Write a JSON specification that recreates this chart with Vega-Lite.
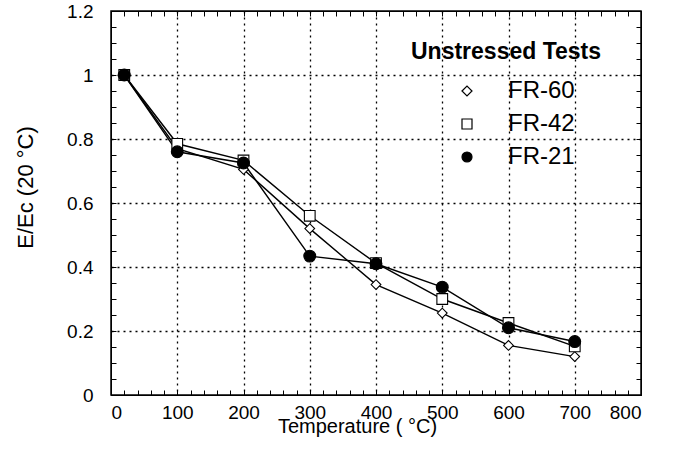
{
  "$schema": "https://vega.github.io/schema/vega-lite/v6.json",
  "width": 530,
  "height": 384,
  "autosize": "none",
  "padding": {"left": 111, "top": 11, "right": 36, "bottom": 74},
  "background": "white",
  "config": {
    "font": "Liberation Sans",
    "view": {"stroke": "black", "strokeWidth": 1.5},
    "axis": {"labelFont": "Liberation Sans", "titleFont": "Liberation Sans", "labelColor": "black", "titleColor": "black", "domainColor": "black", "titleFontWeight": "normal"}
  },
  "data": {
    "values": [
      {"T": 20, "E": 1.0, "series": "FR-60"},
      {"T": 100, "E": 0.77, "series": "FR-60"},
      {"T": 200, "E": 0.705, "series": "FR-60"},
      {"T": 300, "E": 0.52, "series": "FR-60"},
      {"T": 400, "E": 0.345, "series": "FR-60"},
      {"T": 500, "E": 0.256, "series": "FR-60"},
      {"T": 600, "E": 0.155, "series": "FR-60"},
      {"T": 700, "E": 0.12, "series": "FR-60"},
      {"T": 20, "E": 1.0, "series": "FR-42"},
      {"T": 100, "E": 0.785, "series": "FR-42"},
      {"T": 200, "E": 0.733, "series": "FR-42"},
      {"T": 300, "E": 0.56, "series": "FR-42"},
      {"T": 400, "E": 0.412, "series": "FR-42"},
      {"T": 500, "E": 0.30, "series": "FR-42"},
      {"T": 600, "E": 0.225, "series": "FR-42"},
      {"T": 700, "E": 0.152, "series": "FR-42"},
      {"T": 20, "E": 1.0, "series": "FR-21"},
      {"T": 100, "E": 0.76, "series": "FR-21"},
      {"T": 200, "E": 0.725, "series": "FR-21"},
      {"T": 300, "E": 0.434, "series": "FR-21"},
      {"T": 400, "E": 0.41, "series": "FR-21"},
      {"T": 500, "E": 0.337, "series": "FR-21"},
      {"T": 600, "E": 0.21, "series": "FR-21"},
      {"T": 700, "E": 0.167, "series": "FR-21"}
    ]
  },
  "resolve": {"axis": {"x": "independent", "y": "independent"}},
  "layer": [
    {
      "mark": {"type": "line", "color": "black", "strokeWidth": 1.4},
      "encoding": {
        "x": {
          "field": "T", "type": "quantitative",
          "scale": {"domain": [0, 800], "nice": false, "zero": false},
          "axis": {
            "title": "Temperature ( °C)",
            "titleFontSize": 20,
            "titleX": 246,
            "titleY": 21,
            "titleBaseline": "top",
            "labelFontSize": 19,
            "labelPadding": 13,
            "labelOverlap": false,
            "tickCount": 40,
            "labelExpr": "datum.value % 100 === 0 ? datum.label : ''",
            "ticks": true,
            "tickColor": "black",
            "tickSize": -5,
            "grid": true,
            "gridColor": "black",
            "gridDash": [2, 4],
            "gridWidth": 1.3,
            "gridOpacity": {"condition": {"test": "datum.value % 100 === 0 && datum.value > 0 && datum.value < 800", "value": 1}, "value": 0}
          }
        },
        "y": {
          "field": "E", "type": "quantitative",
          "scale": {"domain": [0, 1.2], "nice": false, "zero": false},
          "axis": {
            "title": "E/Ec (20 °C)",
            "titleFontSize": 22,
            "titleX": -74,
            "titleY": 176,
            "labelFontSize": 19,
            "labelPadding": 23,
            "labelOverlap": false,
            "tickCount": 24,
            "labelExpr": "abs(datum.value*5 - round(datum.value*5)) < 0.000001 ? '' + round(datum.value*10)/10 : ''",
            "ticks": true,
            "tickColor": "black",
            "tickSize": -5,
            "grid": true,
            "gridColor": "black",
            "gridDash": [2, 4],
            "gridWidth": 1.3,
            "gridOpacity": {"condition": {"test": "abs(datum.value*5 - round(datum.value*5)) < 0.000001 && datum.value > 0.01 && datum.value < 1.19", "value": 1}, "value": 0}
          }
        },
        "detail": {"field": "series"}
      }
    },
    {
      "mark": {"type": "point", "stroke": "black", "strokeWidth": 1.1, "opacity": 1},
      "encoding": {
        "x": {"field": "T", "type": "quantitative", "axis": null},
        "y": {"field": "E", "type": "quantitative", "axis": null},
        "shape": {
          "field": "series", "type": "nominal",
          "scale": {"domain": ["FR-60", "FR-42", "FR-21"], "range": ["diamond", "square", "circle"]},
          "legend": {
            "title": "Unstressed Tests",
            "orient": "none",
            "legendX": 300,
            "legendY": 30,
            "titleFontSize": 23,
            "titleFontWeight": "bold",
            "titleColor": "black",
            "titleLimit": 400,
            "titlePadding": 15,
            "labelFontSize": 24,
            "labelColor": "black",
            "symbolOffset": 44,
            "labelOffset": 29,
            "symbolSize": 100,
            "symbolStrokeWidth": 1.2,
            "rowPadding": 9
          }
        },
        "fill": {
          "field": "series", "type": "nominal",
          "scale": {"domain": ["FR-60", "FR-42", "FR-21"], "range": ["white", "white", "black"]},
          "legend": {
            "title": "Unstressed Tests",
            "orient": "none",
            "legendX": 300,
            "legendY": 30,
            "titleFontSize": 23,
            "titleFontWeight": "bold",
            "titleColor": "black",
            "titleLimit": 400,
            "titlePadding": 15,
            "labelFontSize": 24,
            "labelColor": "black",
            "symbolOffset": 44,
            "labelOffset": 29,
            "symbolSize": 100,
            "symbolStrokeWidth": 1.2,
            "rowPadding": 9
          }
        },
        "size": {"condition": [{"test": "datum.series === 'FR-60'", "value": 95}, {"test": "datum.series === 'FR-21'", "value": 140}], "value": 115}
      }
    },
    {
      "mark": {"type": "rule", "opacity": 0},
      "encoding": {
        "x": {
          "field": "T", "type": "quantitative",
          "axis": {
            "orient": "top", "title": null, "labels": false, "grid": false,
            "tickCount": 40,
            "ticks": true,
            "tickColor": "black",
            "tickSize": -5
          }
        },
        "y": {
          "field": "E", "type": "quantitative",
          "axis": {
            "orient": "right", "title": null, "labels": false, "grid": false,
            "tickCount": 24,
            "ticks": true,
            "tickColor": "black",
            "tickSize": -5
          }
        }
      }
    }
  ]
}
